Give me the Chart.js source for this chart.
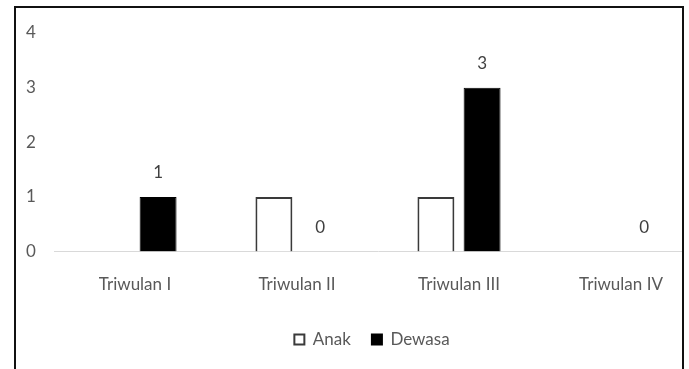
<!DOCTYPE html>
<html>
<head>
<meta charset="utf-8">
<script src="https://cdn.jsdelivr.net/npm/chart.js@4/dist/chart.umd.min.js"></script>
<style>
  html, body { margin: 0; padding: 0; background: #fff; overflow: hidden; }
  #clip { position: absolute; left: 0; top: 0; width: 683px; height: 369px; overflow: hidden; }
  #frame { position: absolute; left: 14px; top: 6px; width: 666px; height: 380px;
           border-left: 2px solid #111; border-top: 2px solid #111; border-right: 2px solid #111; pointer-events: none; }
</style>
</head>
<body>
<div id="clip"><canvas id="c" width="720" height="369"></canvas></div>
<div id="frame"></div>
<script>
const categories = ['Triwulan I', 'Triwulan II', 'Triwulan III', 'Triwulan IV'];
const anak = [null, 1, 1, null];
const dewasa = [1, 0, 3, 0];
const yTicks = [0, 1, 2, 3, 4];

const FONT = "Lato, 'Open Sans', sans-serif";
const GREY = '#595959';

// writes the Dewasa values above their bars
const valueLabels = {
  id: 'valueLabels',
  afterDatasetsDraw(chart) {
    const ctx = chart.ctx;
    const meta = chart.getDatasetMeta(1);
    ctx.save();
    ctx.font = '17px ' + FONT;
    ctx.fillStyle = '#404040';
    ctx.textAlign = 'center';
    ctx.textBaseline = 'middle';
    meta.data.forEach((bar, i) => {
      const v = dewasa[i];
      if (v === null) return;
      ctx.fillText(String(v), bar.x, bar.y - 24);
    });
    ctx.restore();
  }
};

new Chart(document.getElementById('c'), {
  type: 'bar',
  data: {
    labels: categories,
    datasets: [
      { label: 'Anak', data: anak, backgroundColor: '#ffffff', borderColor: '#3a3a3a', borderWidth: 2,
        categoryPercentage: 0.57, barPercentage: 0.8 },
      { label: 'Dewasa', data: dewasa, backgroundColor: '#000000', borderColor: '#000000', borderWidth: 1,
        categoryPercentage: 0.57, barPercentage: 0.8 }
    ]
  },
  options: {
    responsive: false,
    animation: false,
    devicePixelRatio: 1,
    layout: { padding: { top: 33, right: 18, bottom: 11, left: 42 } },
    plugins: {
      legend: {
        position: 'bottom',
        labels: {
          color: GREY,
          font: { family: FONT, size: 17 },
          boxWidth: 10, boxHeight: 10,
          padding: 21,
          generateLabels(chart) {
            return chart.data.datasets.map((d, i) => ({
              text: d.label,
              fillStyle: d.backgroundColor,
              strokeStyle: i === 0 ? '#3a3a3a' : '#000',
              lineWidth: 2,
              fontColor: GREY,
              datasetIndex: i
            }));
          }
        }
      },
      tooltip: { enabled: false }
    },
    scales: {
      x: {
        grid: { display: false },
        border: { display: true, color: '#d9d9d9', width: 1 },
        ticks: { color: GREY, font: { family: FONT, size: 17 }, padding: 15 }
      },
      y: {
        min: 0, max: 4,
        afterFit(scale) { scale.width = 12; },
        afterBuildTicks(scale) { scale.ticks = yTicks.map(v => ({ value: v })); },
        grid: { display: false },
        border: { display: false },
        ticks: { color: GREY, font: { family: FONT, size: 17 }, mirror: true, padding: -28 }
      }
    }
  },
  plugins: [valueLabels]
});
</script>
</body>
</html>
